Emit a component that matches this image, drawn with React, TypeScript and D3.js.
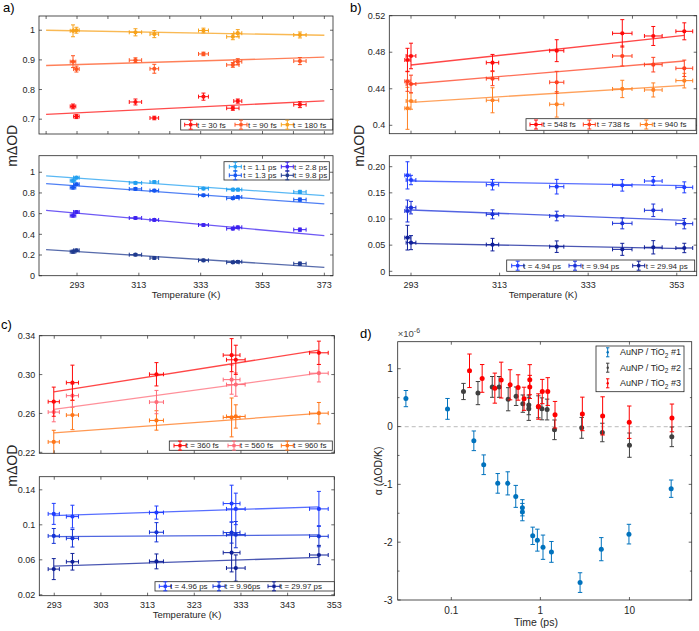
import React from 'react';
import * as d3 from 'd3';

// ---------- Panel a ----------
const tempsA = [291.7, 292.8, 311.9, 318.0, 333.9, 343.4, 345.0, 365.1];
const xErrA = [0.9, 0.9, 2.0, 1.4, 1.6, 2.0, 1.3, 2.0];
const fitXA = [283, 373];
const a30 = [0.743, 0.709, 0.758, 0.704, 0.776, 0.737, 0.761, 0.749];
const a30Err = [0.008, 0.007, 0.01, 0.006, 0.012, 0.007, 0.007, 0.01];
const a30Fit = [0.716, 0.762];
const a90 = [0.894, 0.869, 0.899, 0.870, 0.920, 0.883, 0.894, 0.896];
const a90Err = [0.02, 0.01, 0.008, 0.015, 0.006, 0.008, 0.01, 0.012];
const a90Fit = [0.881, 0.909];
const a180 = [0.998, 1.0, 0.993, 0.987, 0.999, 0.978, 0.990, 0.984];
const a180Err = [0.02, 0.01, 0.012, 0.012, 0.008, 0.01, 0.012, 0.01];
const a180Fit = [1.0, 0.983];
const a1p1 = [0.919, 0.948, 0.897, 0.906, 0.842, 0.832, 0.832, 0.81];
const a1p1Fit = [0.965, 0.774];
const a1p3 = [0.852, 0.884, 0.839, 0.823, 0.777, 0.748, 0.761, 0.735];
const a1p3Fit = [0.890, 0.694];
const a2p8 = [0.581, 0.616, 0.558, 0.539, 0.490, 0.455, 0.468, 0.445];
const a2p8Fit = [0.632, 0.387];
const a9p8 = [0.232, 0.245, 0.203, 0.171, 0.148, 0.129, 0.135, 0.116];
const a9p8Fit = [0.252, 0.081];
const aBotErr = [0.015, 0.012, 0.012, 0.012, 0.012, 0.012, 0.012, 0.015];
const aTopTicks = [283, 293, 303, 313, 323, 333, 343, 353, 363, 373];
const aBotTicks = [293, 313, 333, 353, 373];
const aTopY = [0.7, 0.8, 0.9, 1];
const aTopYLab = ['0.7', '0.8', '0.9', '1'];
const aBotY = [0, 0.2, 0.4, 0.6, 0.8, 1];
const aBotYLab = ['0', '0.2', '0.4', '0.6', '0.8', '1'];

// ---------- Panel b ----------
const tempsB = [292.2, 293.0, 311.4, 325.9, 340.7, 347.7, 354.7];
const xErrB = [0.6, 1.1, 1.4, 1.6, 2.2, 2.0, 1.9];
const fitXB = [293, 354.7];
const b548 = [0.4715, 0.4759, 0.4686, 0.4817, 0.5007, 0.4978, 0.5029];
const b548Err = [0.0128, 0.014, 0.009, 0.012, 0.015, 0.0104, 0.0093];
const b548Fit = [0.466, 0.4985];
const b738 = [0.4482, 0.4452, 0.4511, 0.4471, 0.4759, 0.4664, 0.4624];
const b738Err = [0.011, 0.0097, 0.0077, 0.012, 0.011, 0.008, 0.009];
const b738Fit = [0.4452, 0.4704];
const b940 = [0.4186, 0.4266, 0.4274, 0.423, 0.4398, 0.4387, 0.4489];
const b940Err = [0.023, 0.009, 0.0137, 0.014, 0.0095, 0.0077, 0.008];
const b940Fit = [0.4252, 0.4438];
const b4p94 = [0.1834, 0.1745, 0.1656, 0.1618, 0.1643, 0.1726, 0.1605];
const b4p94Err = [0.026, 0.009, 0.01, 0.014, 0.011, 0.0086, 0.0105];
const b4p94Fit = [0.1726, 0.1637];
const b9p94 = [0.1153, 0.1217, 0.1089, 0.1057, 0.0917, 0.1166, 0.0911];
const b9p94Err = [0.021, 0.012, 0.0086, 0.0092, 0.0105, 0.012, 0.0099];
const b9p94Fit = [0.1172, 0.0975];
const b29p94 = [0.0643, 0.0548, 0.051, 0.0471, 0.042, 0.0459, 0.0446];
const b29p94Err = [0.0236, 0.0134, 0.012, 0.011, 0.0115, 0.0127, 0.009];
const b29p94Fit = [0.0535, 0.0433];
const bTopTicks = [293, 303, 313, 323, 333, 343, 353];
const bBotTicks = [293, 313, 333, 353];
const bTopY = [0.4, 0.44, 0.48, 0.52];
const bTopYLab = ['0.4', '0.44', '0.48', '0.52'];
const bBotY = [0, 0.05, 0.1, 0.15, 0.2];
const bBotYLab = ['0', '0.05', '0.10', '0.15', '0.20'];

// ---------- Panel c ----------
const tempsC = [292.9, 296.9, 314.9, 331.0, 331.9, 349.7];
const xErrC = [1.2, 1.3, 1.5, 1.8, 2.0, 2.0];
const fitXC = [292.9, 349.7];
const c360 = [0.2721, 0.2917, 0.3003, 0.32, 0.3152, 0.3224];
const c360Err = [0.015, 0.018, 0.012, 0.017, 0.015, 0.012];
const c360Fit = [0.2821, 0.3252];
const c560 = [0.2614, 0.2783, 0.2717, 0.2948, 0.2897, 0.3014];
const c560Err = [0.01, 0.012, 0.012, 0.015, 0.012, 0.009];
const c560Fit = [0.2641, 0.3014];
const c960 = [0.2307, 0.2583, 0.2528, 0.2559, 0.2569, 0.2603];
const c960Err = [0.012, 0.015, 0.01, 0.02, 0.012, 0.011];
const c960Fit = [0.24, 0.26];
const c4p96 = [0.1125, 0.1094, 0.114, 0.1243, 0.1182, 0.1182];
const c4p96Err = [0.012, 0.013, 0.0075, 0.021, 0.018, 0.02];
const c4p96Fit = [0.1106, 0.1205];
const c9p96 = [0.0873, 0.0846, 0.0915, 0.0911, 0.0888, 0.0869];
const c9p96Err = [0.0085, 0.01, 0.011, 0.012, 0.015, 0.012];
const c9p96Fit = [0.0865, 0.0884];
const c29p97 = [0.0494, 0.0578, 0.0582, 0.0682, 0.0506, 0.0655];
const c29p97Err = [0.012, 0.0095, 0.0085, 0.022, 0.015, 0.011];
const c29p97Fit = [0.0529, 0.0628];
const cTopTicks = [293, 303, 313, 323, 333, 343, 353];
const cBotTicks = [293, 303, 313, 323, 333, 343, 353];
const cTopY = [0.22, 0.26, 0.3, 0.34];
const cTopYLab = ['0.22', '0.26', '0.30', '0.34'];
const cBotY = [0.02, 0.06, 0.1, 0.14];
const cBotYLab = ['0.02', '0.06', '0.1', '0.14'];

// ---------- Panel d ----------
const dTime1 = [0.0309, 0.0906, 0.179, 0.231, 0.332, 0.43, 0.529, 0.628, 0.628, 0.82, 0.925, 1.07, 1.33, 2.79, 4.83, 9.87, 29.4];
const dVal1 = [0.483, 0.305, -0.247, -0.661, -0.983, -0.983, -1.208, -1.405, -1.48, -1.89, -1.965, -2.087, -2.168, -2.699, -2.121, -1.861, -1.075];
const dErr1 = [0.14, 0.18, 0.17, 0.17, 0.17, 0.2, 0.19, 0.14, 0.15, 0.15, 0.19, 0.21, 0.18, 0.17, 0.2, 0.17, 0.15];
const dTime2 = [0.137, 0.199, 0.288, 0.344, 0.435, 0.534, 0.635, 0.741, 0.741, 0.95, 1.04, 1.19, 1.44, 2.91, 4.96, 10.0, 29.9];
const dVal2 = [0.606, 0.578, 0.685, 0.685, 0.472, 0.524, 0.396, 0.374, 0.306, 0.341, 0.306, 0.294, -0.057, -0.023, -0.103, -0.322, -0.178];
const dErr2 = [0.14, 0.2, 0.18, 0.18, 0.2, 0.16, 0.15, 0.17, 0.2, 0.19, 0.19, 0.18, 0.17, 0.18, 0.16, 0.21, 0.17];
const dTime3 = [0.16, 0.222, 0.308, 0.363, 0.457, 0.562, 0.656, 0.76, 0.76, 0.95, 1.05, 1.21, 1.46, 2.96, 5.0, 9.95, 30];
const dVal3 = [0.964, 0.832, 0.664, 0.803, 0.722, 0.675, 0.48, 0.81, 0.685, 0.346, 0.605, 0.605, 0.204, 0.218, 0.184, 0.075, 0.149];
const dErr3 = [0.29, 0.24, 0.26, 0.31, 0.26, 0.22, 0.2, 0.26, 0.2, 0.22, 0.21, 0.24, 0.23, 0.29, 0.33, 0.28, 0.24];
const dXTicks = [0.1, 1, 10];
const dXLab = ['0.1', '1', '10'];
const dYTicks = [-3, -2, -1, 0, 1];
const dYMinor = [-2.5, -1.5, -0.5, 0.5];
const dLabels = ['#1', '#2', '#3'];

const FONT = "'Liberation Sans', Arial, Helvetica, sans-serif";
const AX = '#262626';

type Series = {
  x: number[]; y: number[]; xe: number[]; ye: number[];
  color: string; fitX: number[]; fit: number[];
};
type LegItem = { cx: number; tx: number; cy: number; color: string; label: string };

function Cross({ cx, cy, color }: { cx: number; cy: number; color: string }) {
  return (
    <g stroke={color} strokeWidth={1}>
      <line x1={cx - 6} x2={cx + 6} y1={cy} y2={cy} />
      <line x1={cx - 6} x2={cx - 6} y1={cy - 2} y2={cy + 2} />
      <line x1={cx + 6} x2={cx + 6} y1={cy - 2} y2={cy + 2} />
      <line x1={cx} x2={cx} y1={cy - 4.5} y2={cy + 4.5} />
      <line x1={cx - 2} x2={cx + 2} y1={cy - 4.5} y2={cy - 4.5} />
      <line x1={cx - 2} x2={cx + 2} y1={cy + 4.5} y2={cy + 4.5} />
      <rect x={cx - 1.6} y={cy - 1.6} width={3.2} height={3.2} fill={color} stroke="none" />
    </g>
  );
}

function Legend({ box, items }: { box: number[]; items: LegItem[] }) {
  return (
    <g>
      <rect x={box[0]} y={box[1]} width={box[2] - box[0]} height={box[3] - box[1]} fill="#fff" stroke={AX} strokeWidth={0.8} />
      {items.map((it, i) => (
        <g key={i}>
          <Cross cx={it.cx} cy={it.cy} color={it.color} />
          <text x={it.tx} y={it.cy + 2.8} fontSize={8} fill={AX} fontFamily={FONT}>{it.label}</text>
        </g>
      ))}
    </g>
  );
}

function Panel(props: {
  L: number; T: number; R: number; B: number;
  xDom: number[]; yDom: number[];
  xTicks: number[]; showX: boolean;
  yTicks: number[]; yLab: string[];
  series: Series[];
  legend: { box: number[]; items: LegItem[] };
}) {
  const { L, T, R, B } = props;
  const xs = d3.scaleLinear().domain(props.xDom).range([L, R]);
  const ys = d3.scaleLinear().domain(props.yDom).range([B, T]);
  const tl = 3;
  const id = `clip${Math.round(L)}_${Math.round(T)}`;
  return (
    <g fontFamily={FONT}>
      <defs>
        <clipPath id={id}><rect x={L} y={T} width={R - L} height={B - T} /></clipPath>
      </defs>
      <rect x={L} y={T} width={R - L} height={B - T} fill="#fff" />
      <g clipPath={`url(#${id})`}>
        {props.series.map((s, si) => (
          <g key={si}>
            <line x1={xs(s.fitX[0])} x2={xs(s.fitX[1])} y1={ys(s.fit[0])} y2={ys(s.fit[1])}
              stroke={s.color} strokeWidth={1.3} strokeOpacity={0.75} />
            {s.x.map((xv, i) => {
              const px = xs(xv), py = ys(s.y[i]);
              const x1 = xs(xv - s.xe[i]), x2 = xs(xv + s.xe[i]);
              const y1 = ys(s.y[i] - s.ye[i]), y2 = ys(s.y[i] + s.ye[i]);
              return (
                <g key={i} stroke={s.color} strokeWidth={1}>
                  <line x1={x1} x2={x2} y1={py} y2={py} />
                  <line x1={x1} x2={x1} y1={py - 2} y2={py + 2} />
                  <line x1={x2} x2={x2} y1={py - 2} y2={py + 2} />
                  <line x1={px} x2={px} y1={y1} y2={y2} />
                  <line x1={px - 2} x2={px + 2} y1={y1} y2={y1} />
                  <line x1={px - 2} x2={px + 2} y1={y2} y2={y2} />
                  <circle cx={px} cy={py} r={2.1} fill={s.color} stroke="none" />
                </g>
              );
            })}
          </g>
        ))}
      </g>
      <g stroke={AX} strokeWidth={0.7}>
        {props.xTicks.map((t, i) => (
          <g key={i}>
            <line x1={xs(t)} x2={xs(t)} y1={B} y2={B - tl} />
            <line x1={xs(t)} x2={xs(t)} y1={T} y2={T + tl} />
          </g>
        ))}
        {props.yTicks.map((t, i) => (
          <g key={i}>
            <line x1={L} x2={L + tl} y1={ys(t)} y2={ys(t)} />
            <line x1={R} x2={R - tl} y1={ys(t)} y2={ys(t)} />
          </g>
        ))}
      </g>
      <rect x={L} y={T} width={R - L} height={B - T} fill="none" stroke={AX} strokeWidth={0.8} />
      {props.yTicks.map((t, i) => (
        <text key={i} x={L - 4} y={ys(t) + 3.2} fontSize={9} textAnchor="end" fill={AX}>{props.yLab[i]}</text>
      ))}
      {props.showX && props.xTicks.map((t, i) => (
        <text key={i} x={xs(t)} y={B + 12} fontSize={9} textAnchor="middle" fill={AX}>{t}</text>
      ))}
      <Legend box={props.legend.box} items={props.legend.items} />
    </g>
  );
}

function mk(x: number[], y: number[], xe: number[], ye: number[], color: string, fitX: number[], fit: number[]): Series {
  return { x, y, xe, ye, color, fitX, fit };
}

function PanelD() {
  const L = 397.7, T = 341.7, R = 691.7, B = 600;
  const xs = d3.scaleLog().domain([0.025, 50]).range([L, R]);
  const ys = d3.scaleLinear().domain([-3, 1.467]).range([B, T]);
  const groups = [
    { t: dTime1, v: dVal1, e: dErr1, c: '#0072BD' },
    { t: dTime2, v: dVal2, e: dErr2, c: '#404040' },
    { t: dTime3, v: dVal3, e: dErr3, c: '#FF0000' },
  ];
  const legRows = [352.3, 367.7, 383.3];
  return (
    <g fontFamily={FONT}>
      <rect x={L} y={T} width={R - L} height={B - T} fill="#fff" />
      <line x1={L} x2={R} y1={ys(0)} y2={ys(0)} stroke="#c8c8c8" strokeWidth={1.2} strokeDasharray="4,3" />
      {groups.map((g, gi) => (
        <g key={gi} stroke={g.c} strokeWidth={1}>
          {g.t.map((tv, i) => {
            const px = xs(tv), py = ys(g.v[i]);
            const y1 = ys(g.v[i] - g.e[i]), y2 = ys(g.v[i] + g.e[i]);
            return (
              <g key={i}>
                <line x1={px} x2={px} y1={y1} y2={y2} />
                <line x1={px - 2.2} x2={px + 2.2} y1={y1} y2={y1} />
                <line x1={px - 2.2} x2={px + 2.2} y1={y2} y2={y2} />
                <circle cx={px} cy={py} r={2.5} fill={g.c} stroke="none" />
              </g>
            );
          })}
        </g>
      ))}
      <g stroke={AX} strokeWidth={0.7}>
        {dXTicks.map((t, i) => (
          <g key={i}>
            <line x1={xs(t)} x2={xs(t)} y1={B} y2={B - 3} />
            <line x1={xs(t)} x2={xs(t)} y1={T} y2={T + 3} />
          </g>
        ))}
        {dYTicks.map((t, i) => (
          <g key={i}>
            <line x1={L} x2={L + 3} y1={ys(t)} y2={ys(t)} />
            <line x1={R} x2={R - 3} y1={ys(t)} y2={ys(t)} />
          </g>
        ))}
        {dYMinor.map((t, i) => (
          <g key={i}>
            <line x1={L} x2={L + 1.8} y1={ys(t)} y2={ys(t)} />
            <line x1={R} x2={R - 1.8} y1={ys(t)} y2={ys(t)} />
          </g>
        ))}
      </g>
      <rect x={L} y={T} width={R - L} height={B - T} fill="none" stroke={AX} strokeWidth={0.8} />
      {dYTicks.map((t, i) => (
        <text key={i} x={L - 5} y={ys(t) + 3.5} fontSize={10} textAnchor="end" fill={AX}>{t}</text>
      ))}
      {dXTicks.map((t, i) => (
        <text key={i} x={xs(t)} y={B + 14} fontSize={10} textAnchor="middle" fill={AX}>{dXLab[i]}</text>
      ))}
      <text x={L} y={337} fontSize={9.5} fill="#444">×10<tspan dy={-4} fontSize={7}>-6</tspan></text>
      <text x={536} y={626} fontSize={10.5} textAnchor="middle" fill={AX}>Time (ps)</text>
      <text transform={`translate(382,${(T + B) / 2}) rotate(-90)`} fontSize={10.5} textAnchor="middle" fill={AX}>α (ΔOD/K)</text>
      <rect x={596} y={346} width={88} height={45.7} fill="#fff" stroke={AX} strokeWidth={0.8} />
      {groups.map((g, gi) => (
        <g key={gi}>
          <g stroke={g.c} strokeWidth={1}>
            <line x1={607.7} x2={607.7} y1={legRows[gi] - 4.5} y2={legRows[gi] + 4.5} />
            <line x1={606} x2={609.4} y1={legRows[gi] - 4.5} y2={legRows[gi] - 4.5} />
            <line x1={606} x2={609.4} y1={legRows[gi] + 4.5} y2={legRows[gi] + 4.5} />
            <circle cx={607.7} cy={legRows[gi]} r={1.2} fill={g.c} stroke="none" />
          </g>
          <text x={620} y={legRows[gi] + 3} fontSize={9} fill={AX}>AuNP / TiO<tspan dy={2.5} fontSize={6.5}>2</tspan><tspan dy={-2.5}> {dLabels[gi]}</tspan></text>
        </g>
      ))}
    </g>
  );
}

export default function App() {
  const aTopSeries = [
    mk(tempsA, a30, xErrA, a30Err, '#ff1010', fitXA, a30Fit),
    mk(tempsA, a90, xErrA, a90Err, '#ff5522', fitXA, a90Fit),
    mk(tempsA, a180, xErrA, a180Err, '#f7a21b', fitXA, a180Fit),
  ];
  const aBotSeries = [
    mk(tempsA, a9p8, xErrA, aBotErr, '#1f3a8f', fitXA, a9p8Fit),
    mk(tempsA, a2p8, xErrA, aBotErr, '#3d22f0', fitXA, a2p8Fit),
    mk(tempsA, a1p3, xErrA, aBotErr, '#1455f0', fitXA, a1p3Fit),
    mk(tempsA, a1p1, xErrA, aBotErr, '#22a0f0', fitXA, a1p1Fit),
  ];
  const bTopSeries = [
    mk(tempsB, b940, xErrB, b940Err, '#ff8124', fitXB, b940Fit),
    mk(tempsB, b738, xErrB, b738Err, '#ff4020', fitXB, b738Fit),
    mk(tempsB, b548, xErrB, b548Err, '#ff0a0a', fitXB, b548Fit),
  ];
  const bBotSeries = [
    mk(tempsB, b29p94, xErrB, b29p94Err, '#0f1f99', fitXB, b29p94Fit),
    mk(tempsB, b9p94, xErrB, b9p94Err, '#1a30d8', fitXB, b9p94Fit),
    mk(tempsB, b4p94, xErrB, b4p94Err, '#1f3dff', fitXB, b4p94Fit),
  ];
  const cTopSeries = [
    mk(tempsC, c960, xErrC, c960Err, '#ff7518', fitXC, c960Fit),
    mk(tempsC, c560, xErrC, c560Err, '#ff6b78', fitXC, c560Fit),
    mk(tempsC, c360, xErrC, c360Err, '#ff0a0a', fitXC, c360Fit),
  ];
  const cBotSeries = [
    mk(tempsC, c29p97, xErrC, c29p97Err, '#0f2099', fitXC, c29p97Fit),
    mk(tempsC, c9p96, xErrC, c9p96Err, '#1433d6', fitXC, c9p96Fit),
    mk(tempsC, c4p96, xErrC, c4p96Err, '#1f3dff', fitXC, c4p96Fit),
  ];
  const tempLabel = (x: number, y: number) => (
    <text x={x} y={y} fontSize={9.5} textAnchor="middle" fill={AX} fontFamily={FONT}>Temperature (K)</text>
  );
  const mLabel = (x: number, y: number) => (
    <text transform={`translate(${x},${y}) rotate(-90)`} fontSize={14} textAnchor="middle" fill={AX} fontFamily={FONT}>mΔOD</text>
  );
  const pLabel = (x: number, y: number, s: string) => (
    <text x={x} y={y} fontSize={13} fill="#000" fontFamily={FONT}>{s}</text>
  );
  return (
    <svg width={699} height={631} style={{ position: 'absolute', left: 0, top: 0, background: '#fff' }}>
      <rect width={699} height={631} fill="#fff" />
      {/* Panel a */}
      <Panel L={39} T={16} R={333} B={134} xDom={[280.7, 375.8]} yDom={[0.65, 1.048]}
        xTicks={aTopTicks} showX={false} yTicks={aTopY} yLab={aTopYLab} series={aTopSeries}
        legend={{ box: [180.7, 119.3, 332.7, 130], items: [
          { cx: 190.7, tx: 197, cy: 124.7, color: '#ff1010', label: 't = 30 fs' },
          { cx: 241, tx: 248, cy: 124.7, color: '#ff5522', label: 't = 90 fs' },
          { cx: 287.3, tx: 293, cy: 124.7, color: '#f7a21b', label: 't = 180 fs' },
        ] }} />
      <Panel L={39} T={155.7} R={333} B={275.7} xDom={[280.7, 375.8]} yDom={[0, 1.16]}
        xTicks={aBotTicks} showX={true} yTicks={aBotY} yLab={aBotYLab} series={aBotSeries}
        legend={{ box: [224, 161.7, 329.3, 180], items: [
          { cx: 235.3, tx: 243.3, cy: 166.7, color: '#22a0f0', label: 't = 1.1 ps' },
          { cx: 287.3, tx: 294, cy: 166.7, color: '#3d22f0', label: 't = 2.8 ps' },
          { cx: 235.3, tx: 243.3, cy: 175.3, color: '#1455f0', label: 't = 1.3 ps' },
          { cx: 287.3, tx: 294, cy: 175.3, color: '#1f3a8f', label: 't = 9.8 ps' },
        ] }} />
      {tempLabel(186, 298)}
      {mLabel(17, 145.8)}
      {pLabel(3, 12, 'a)')}

      {/* Panel b */}
      <Panel L={389.3} T={15.7} R={696.7} B={133.7} xDom={[288.1, 357.5]} yDom={[0.3908, 0.52]}
        xTicks={bTopTicks} showX={false} yTicks={bTopY} yLab={bTopYLab} series={bTopSeries}
        legend={{ box: [526, 118.7, 696, 130.3], items: [
          { cx: 536, tx: 542.7, cy: 124.5, color: '#ff0a0a', label: 't = 548 fs' },
          { cx: 589.3, tx: 596.7, cy: 124.5, color: '#ff4020', label: 't = 738 fs' },
          { cx: 646.3, tx: 653.3, cy: 124.5, color: '#ff8124', label: 't = 940 fs' },
        ] }} />
      <Panel L={389.3} T={155.7} R={696.7} B={275.7} xDom={[288.1, 357.5]} yDom={[-0.0084, 0.221]}
        xTicks={bBotTicks} showX={true} yTicks={bBotY} yLab={bBotYLab} series={bBotSeries}
        legend={{ box: [506.7, 260, 694.7, 271.3], items: [
          { cx: 517.7, tx: 523.3, cy: 265.7, color: '#1f3dff', label: 't = 4.94 ps' },
          { cx: 575, tx: 581.7, cy: 265.7, color: '#1a30d8', label: 't = 9.94 ps' },
          { cx: 638.7, tx: 645.7, cy: 265.7, color: '#0f1f99', label: 't = 29.94 ps' },
        ] }} />
      {tempLabel(543, 298)}
      {mLabel(364, 145.8)}
      {pLabel(350, 12, 'b)')}

      {/* Panel c */}
      <Panel L={39.3} T={335.7} R={334.3} B={453.3} xDom={[289.8, 353]} yDom={[0.219, 0.34]}
        xTicks={cTopTicks} showX={false} yTicks={cTopY} yLab={cTopYLab} series={cTopSeries}
        legend={{ box: [169.3, 441, 332.3, 450.3], items: [
          { cx: 180, tx: 185.7, cy: 445.6, color: '#ff0a0a', label: 't = 360 fs' },
          { cx: 234, tx: 240, cy: 445.6, color: '#ff6b78', label: 't = 560 fs' },
          { cx: 287.3, tx: 293.3, cy: 445.6, color: '#ff7518', label: 't = 960 fs' },
        ] }} />
      <Panel L={39.3} T={476.7} R={334.3} B={595.7} xDom={[289.8, 353]} yDom={[0.019, 0.155]}
        xTicks={cBotTicks} showX={true} yTicks={cBotY} yLab={cBotYLab} series={cBotSeries}
        legend={{ box: [155, 581.7, 334.3, 591], items: [
          { cx: 165.3, tx: 170, cy: 586.3, color: '#1f3dff', label: 't = 4.96 ps' },
          { cx: 219, tx: 225, cy: 586.3, color: '#1433d6', label: 't = 9.96ps' },
          { cx: 274, tx: 280, cy: 586.3, color: '#0f2099', label: 't = 29.97 ps' },
        ] }} />
      {tempLabel(187, 618)}
      {mLabel(17, 465.7)}
      {pLabel(1, 329, 'c)')}

      {/* Panel d */}
      <PanelD />
      {pLabel(360, 338, 'd)')}
    </svg>
  );
}
